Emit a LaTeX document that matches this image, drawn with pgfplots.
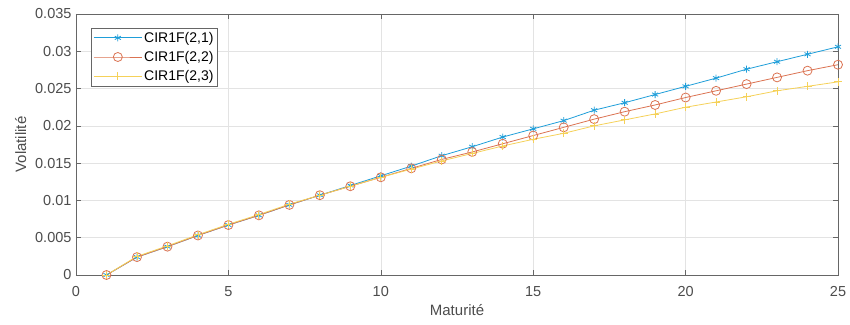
\documentclass[border=0pt]{standalone}
\usepackage{pgfplots}
\pgfplotsset{compat=1.18}
\usepackage{fontspec}
\setmainfont{Liberation Sans}
\definecolor{mblue}{rgb}{0.12,0.62,0.85}
\definecolor{mred}{rgb}{0.86,0.45,0.32}
\definecolor{myel}{rgb}{0.96,0.82,0.35}
\definecolor{axgray}{rgb}{0.40,0.40,0.40}
\definecolor{txtgray}{rgb}{0.30,0.30,0.30}
\begin{document}
\begin{tikzpicture}
\begin{axis}[
  scale only axis, width=762pt, height=261pt,
  xmin=0, xmax=25, ymin=0, ymax=0.035,
  xtick={0,5,10,15,20,25},
  ytick={0,0.005,0.01,0.015,0.02,0.025,0.03,0.035},
  yticklabel style={/pgf/number format/fixed, /pgf/number format/precision=3, xshift=-1pt},
  xticklabel style={yshift=-8pt},
  scaled y ticks=false,
  /pgf/number format/assume math mode=true,
  tick label style={font=\fontsize{14.5}{16}\selectfont, text=txtgray},
  label style={font=\fontsize{15}{17}\selectfont, text=txtgray},
  xlabel={Maturité}, ylabel={Volatilité},
  xlabel style={yshift=-1pt},
  ylabel style={yshift=2pt},
  axis line style={axgray, line width=0.6pt},
  tick style={axgray, line width=0.6pt},
  major tick length=5pt,
  tick align=inside,
  grid=major,
  major grid style={gray!22, line width=0.6pt},
  legend style={at={(0.02,0.947)}, anchor=north west, draw=axgray, font=\fontsize{14}{16}\selectfont, text=black, row sep=3.5pt, inner sep=2pt, cells={inner sep=2.6pt}},
  legend cell align=left,
  legend image code/.code={\draw[#1, mark repeat=2, mark phase=2] plot coordinates {(0pt,0pt) (24pt,0pt) (48pt,0pt)};},
]
\addplot[mblue, line width=0.8pt, mark=asterisk, mark size=3.5pt] coordinates {
(1,0) (2,0.0024) (3,0.0038) (4,0.0053) (5,0.0067) (6,0.0080) (7,0.0094) (8,0.0107) (9,0.0120) (10,0.0133)
(11,0.0146) (12,0.0160) (13,0.0172) (14,0.0185) (15,0.0196) (16,0.0207) (17,0.0221) (18,0.0231) (19,0.0242) (20,0.0253)
(21,0.0264) (22,0.0276) (23,0.0286) (24,0.0296) (25,0.0306)};
\addlegendentry{CIR1F(2,1)}
\addplot[mred, line width=0.8pt, mark=o, mark size=4.5pt] coordinates {
(1,0) (2,0.0024) (3,0.0038) (4,0.0053) (5,0.0067) (6,0.0080) (7,0.0094) (8,0.0107) (9,0.0119) (10,0.0131)
(11,0.0143) (12,0.0155) (13,0.0165) (14,0.0176) (15,0.0187) (16,0.0198) (17,0.0209) (18,0.0219) (19,0.0228) (20,0.0238)
(21,0.0247) (22,0.0256) (23,0.0265) (24,0.0274) (25,0.0282)};
\addlegendentry{CIR1F(2,2)}
\addplot[myel, line width=0.8pt, mark=+, mark size=4pt] coordinates {
(1,0) (2,0.0025) (3,0.0039) (4,0.0054) (5,0.0068) (6,0.0081) (7,0.0095) (8,0.0107) (9,0.0119) (10,0.0131)
(11,0.0142) (12,0.0153) (13,0.0163) (14,0.0173) (15,0.0182) (16,0.0190) (17,0.0200) (18,0.0208) (19,0.0216) (20,0.0225)
(21,0.0232) (22,0.0239) (23,0.0247) (24,0.0253) (25,0.0259)};
\addlegendentry{CIR1F(2,3)}
\end{axis}
\pgfresetboundingbox
\path (-76pt,-49pt) rectangle (774pt,275pt);
\end{tikzpicture}
\end{document}
